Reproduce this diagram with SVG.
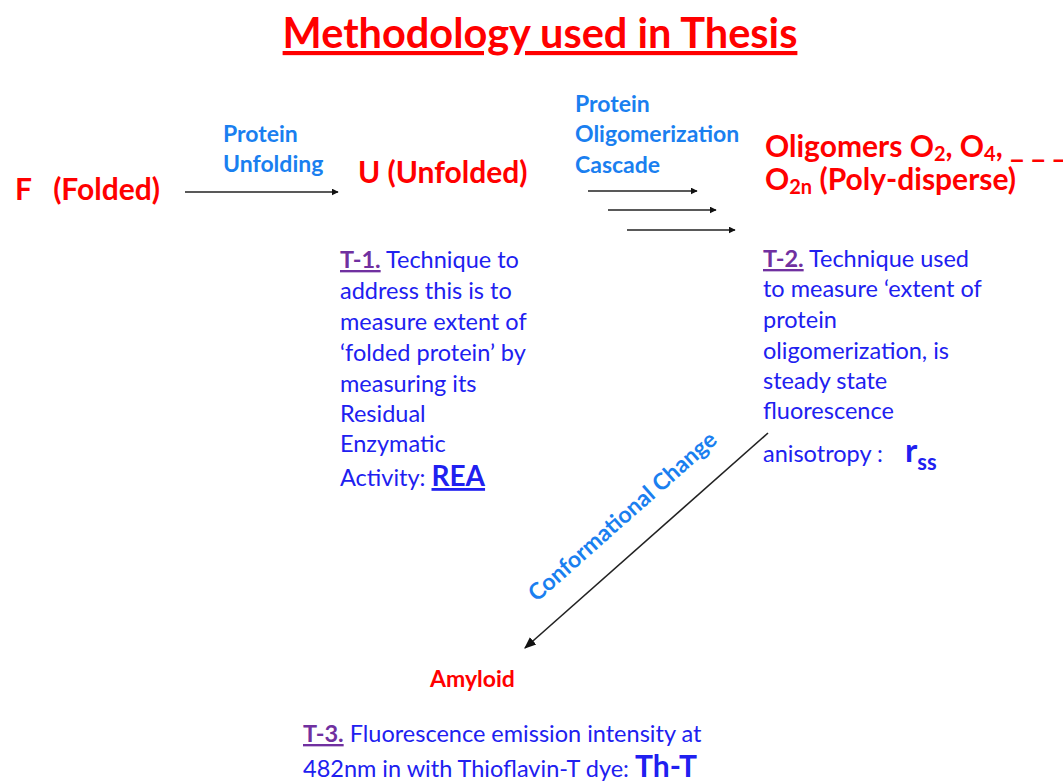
<svg xmlns="http://www.w3.org/2000/svg" width="1063" height="781" viewBox="0 0 1063 781">
<style>
text{font-family:Lato,"Open Sans",sans-serif}
.node{fill:#ff0000;font-weight:bold;font-size:30px}
.lbl{fill:#1a7ff0;font-weight:bold;font-size:23px}
.body{fill:#2020f0;font-size:23.5px}
.tag{fill:#7030a0;font-weight:bold;text-decoration:underline}
.conn{stroke:#222;stroke-width:1.6;fill:none}
</style>
<defs>
<marker id="ah" viewBox="0 0 10 10" refX="9" refY="5" markerWidth="7" markerHeight="7" markerUnits="userSpaceOnUse" orient="auto">
<path d="M0,0 L10,5 L0,10 z" fill="#111"/>
</marker>
<marker id="ah2" viewBox="0 0 10 10" refX="9" refY="5" markerWidth="12" markerHeight="12" markerUnits="userSpaceOnUse" orient="auto">
<path d="M0,1 L10,5 L0,9 z" fill="#111"/>
</marker>
</defs>
<rect width="1063" height="781" fill="#fff"/>
<g id="title">
<text x="540" y="48" text-anchor="middle" font-size="41.5" font-weight="bold" fill="#ff0000" text-decoration="underline">Methodology used in Thesis</text>
</g>
<g id="connectors">
<line class="conn" x1="185" y1="192" x2="338" y2="192" marker-end="url(#ah)"/>
<line class="conn" x1="588" y1="191" x2="697" y2="191" marker-end="url(#ah)"/>
<line class="conn" x1="608" y1="210" x2="716" y2="210" marker-end="url(#ah)"/>
<line class="conn" x1="627" y1="230" x2="735" y2="230" marker-end="url(#ah)"/>
<line class="conn" x1="768" y1="433" x2="525" y2="648" marker-end="url(#ah2)"/>
</g>
<g id="label-unfolding">
<text class="lbl" x="223" y="142">Protein</text>
<text class="lbl" x="223" y="172">Unfolding</text>
</g>
<g id="label-cascade">
<text class="lbl" x="575" y="112">Protein</text>
<text class="lbl" x="575" y="142">Oligomerization</text>
<text class="lbl" x="575" y="173">Cascade</text>
</g>
<g id="label-conformational">
<text class="lbl" transform="translate(623,517) rotate(-41.5)" text-anchor="middle" y="7" font-size="22">Conformational Change</text>
</g>
<g id="node-F">
<text class="node" x="15" y="200" xml:space="preserve">F   (Folded)</text>
</g>
<g id="node-U">
<text class="node" x="358" y="183">U (Unfolded)</text>
</g>
<g id="node-oligomers">
<text class="node" x="765" y="157">Oligomers O<tspan font-size="20" dy="4">2</tspan><tspan dy="-4">, O</tspan><tspan font-size="20" dy="4">4</tspan><tspan dy="-4">, _ _ _</tspan></text>
<text class="node" x="765" y="190">O<tspan font-size="20" dy="4">2n</tspan><tspan dy="-4"> (Poly-disperse)</tspan></text>
</g>
<g id="node-amyloid">
<text x="430" y="687" font-size="23" font-weight="bold" fill="#ff0000">Amyloid</text>
</g>
<g id="text-T1">
<text class="body" x="340" y="268"><tspan class="tag">T-1.</tspan> Technique to</text>
<text class="body" x="340" y="299">address this is to</text>
<text class="body" x="340" y="330">measure extent of</text>
<text class="body" x="340" y="361">‘folded protein’ by</text>
<text class="body" x="340" y="392">measuring its</text>
<text class="body" x="340" y="422">Residual</text>
<text class="body" x="340" y="452">Enzymatic</text>
<text class="body" x="340" y="486">Activity: <tspan font-weight="bold" font-size="28" text-decoration="underline">REA</tspan></text>
</g>
<g id="text-T2">
<text class="body" x="763" y="267"><tspan class="tag">T-2.</tspan> Technique used</text>
<text class="body" x="763" y="297">to measure ‘extent of</text>
<text class="body" x="763" y="328">protein</text>
<text class="body" x="763" y="359">oligomerization, is</text>
<text class="body" x="763" y="389">steady state</text>
<text class="body" x="763" y="419">fluorescence</text>
<text class="body" x="763" y="462">anisotropy :</text>
<text x="905" y="462" font-size="33" font-weight="bold" fill="#2020f0">r<tspan font-size="22" dy="8">ss</tspan></text>
</g>
<g id="text-T3">
<text class="body" x="303" y="742"><tspan class="tag">T-3.</tspan> Fluorescence emission intensity at</text>
<text class="body" x="303" y="777">482nm in with Thioflavin-T dye: <tspan font-weight="bold" font-size="30">Th-T</tspan></text>
</g>
</svg>
